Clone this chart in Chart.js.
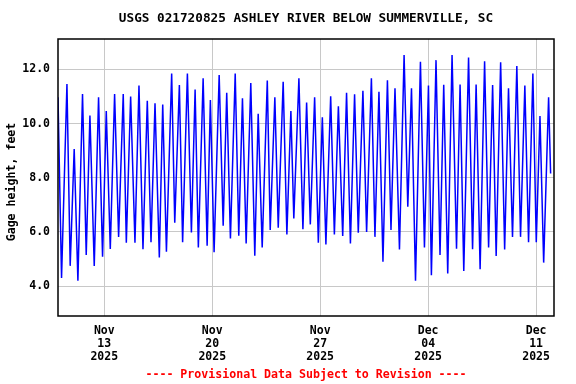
<!DOCTYPE html>
<html>
<head>
<meta charset="utf-8">
<title>USGS 021720825 Ashley River below Summerville, SC</title>
<script src="https://cdn.jsdelivr.net/npm/chart.js@4.4.0/dist/chart.umd.min.js"></script>
<style>
  html, body { margin: 0; padding: 0; background: #fff; }
</style>
</head>
<body>
<canvas id="gage" width="576" height="384"></canvas>
<script>
// ===== Data =====
// turning points of the tide, in days after Nov 10 2025 00:00
const tideDays = [
  0.00, 0.23, 0.58, 0.79, 1.05, 1.29, 1.59, 1.83, 2.07, 2.35,
  2.63, 2.89, 3.13, 3.39, 3.67, 3.93, 4.23, 4.43, 4.71, 4.99,
  5.25, 5.51, 5.79, 6.03, 6.29, 6.57, 6.79, 7.03, 7.37, 7.57,
  7.87, 8.08, 8.39, 8.65, 8.89, 9.10, 9.41, 9.67, 9.88, 10.12,
  10.45, 10.71, 10.94, 11.18, 11.49, 11.72, 11.96, 12.20, 12.50, 12.76,
  12.98, 13.24, 13.57, 13.76, 14.06, 14.28, 14.60, 14.84, 15.10, 15.29,
  15.62, 15.88, 16.12, 16.36, 16.64, 16.88, 17.14, 17.37, 17.68, 17.92,
  18.18, 18.46, 18.71, 18.96, 19.23, 19.47, 19.77, 20.01, 20.32, 20.55,
  20.81, 21.07, 21.36, 21.59, 21.85, 22.14, 22.44, 22.68, 22.92, 23.18,
  23.50, 23.76, 24.02, 24.21, 24.51, 24.77, 25.01, 25.27, 25.55, 25.84,
  26.07, 26.31, 26.62, 26.88, 27.11, 27.37, 27.66, 27.92, 28.18, 28.41,
  28.70, 28.96, 29.21, 29.47, 29.75, 29.99, 30.27, 30.51, 30.79, 31.01,
  31.25, 31.49, 31.81, 31.94
];
const gageFeet = [
  10.97, 4.30, 11.46, 4.75, 9.06, 4.20, 11.09, 5.15, 10.30, 4.75,
  10.97, 5.09, 10.46, 5.37, 11.09, 5.82, 11.09, 5.60, 11.00, 5.60,
  11.40, 5.36, 10.84, 5.62, 10.75, 5.06, 10.70, 5.27, 11.85, 6.34,
  11.42, 5.62, 11.85, 5.98, 11.26, 5.43, 11.67, 5.49, 10.87, 5.25,
  11.79, 6.23, 11.14, 5.76, 11.85, 5.86, 10.93, 5.58, 11.50, 5.12,
  10.36, 5.43, 11.59, 6.07, 10.97, 6.16, 11.54, 5.91, 10.46, 6.50,
  11.67, 6.10, 10.78, 6.28, 10.97, 5.60, 10.23, 5.54, 11.01, 5.91,
  10.64, 5.85, 11.14, 5.58, 11.08, 5.97, 11.21, 6.00, 11.67, 5.82,
  11.17, 4.90, 11.60, 6.07, 11.30, 5.35, 12.53, 6.93, 11.30, 4.20,
  12.28, 5.43, 11.40, 4.40, 12.34, 5.15, 11.43, 4.47, 12.53, 5.38,
  11.44, 4.56, 12.44, 5.36, 11.44, 4.63, 12.30, 5.43, 11.42, 5.11,
  12.26, 5.35, 11.30, 5.82, 12.12, 5.82, 11.40, 5.62, 11.85, 5.62,
  10.28, 4.87, 10.97, 8.16
];

const dayTicks = [3, 10, 17, 24, 31];
const dayTickLabels = [
  ['Nov', '13', '2025'],
  ['Nov', '20', '2025'],
  ['Nov', '27', '2025'],
  ['Dec', '04', '2025'],
  ['Dec', '11', '2025']
];
const feetTicks = [4, 6, 8, 10, 12];

const chartTitle = 'USGS 021720825 ASHLEY RIVER BELOW SUMMERVILLE, SC';
const yTitle = 'Gage height, feet';
const footNote = '---- Provisional Data Subject to Revision ----';

// ===== Helpers =====
const MONO = '"DejaVu Sans Mono", "Liberation Mono", monospace';
const GRID = '#c8c8c8';

const points = tideDays.map((d, i) => ({ x: d, y: gageFeet[i] }));

// frame round the plot, plus title, rotated y title and footer
const frameAndText = {
  id: 'frameAndText',
  afterDraw(chart) {
    const { ctx, chartArea: a } = chart;
    const mid = (a.left + a.right) / 2;
    ctx.save();
    ctx.strokeStyle = '#000';
    ctx.lineWidth = 1.5;
    ctx.strokeRect(a.left, a.top, a.right - a.left, a.bottom - a.top);

    ctx.textAlign = 'center';
    ctx.textBaseline = 'middle';
    ctx.fillStyle = '#000';
    ctx.font = 'bold 12.7px ' + MONO;
    ctx.fillText(chartTitle, mid, 19);

    ctx.fillStyle = '#f00';
    ctx.font = 'bold 11.6px ' + MONO;
    ctx.fillText(footNote, mid, 375);

    ctx.translate(12, 182);
    ctx.rotate(-Math.PI / 2);
    ctx.fillStyle = '#000';
    ctx.font = 'bold 11.6px ' + MONO;
    ctx.fillText(yTitle, 0, 0);
    ctx.restore();
  }
};

// ===== Chart =====
new Chart(document.getElementById('gage'), {
  type: 'line',
  data: {
    datasets: [{
      data: points,
      borderColor: '#0000ff',
      borderWidth: 1.5,
      pointRadius: 0,
      tension: 0,
      fill: false
    }]
  },
  options: {
    responsive: false,
    animation: false,
    layout: { padding: { left: 0, right: 22, top: 39, bottom: 0 } },
    plugins: {
      legend: { display: false },
      title: { display: false },
      tooltip: { enabled: false }
    },
    scales: {
      x: {
        type: 'linear',
        min: 0,
        max: 32.16,
        afterBuildTicks: s => { s.ticks = dayTicks.map(v => ({ value: v })); },
        afterFit: s => { s.height = 68; },
        grid: { color: GRID, lineWidth: 1, drawTicks: false },
        border: { display: false },
        ticks: {
          padding: 9,
          maxRotation: 0,
          autoSkip: false,
          color: '#000',
          font: { family: MONO, size: 11.5, weight: 'bold', lineHeight: 1.13 },
          callback: (v) => dayTickLabels[dayTicks.indexOf(v)]
        }
      },
      y: {
        min: 2.9,
        max: 13.12,
        afterBuildTicks: s => { s.ticks = feetTicks.map(v => ({ value: v })); },
        afterFit: s => { s.width = 58; },
        grid: { color: GRID, lineWidth: 1, drawTicks: false },
        border: { display: false },
        ticks: {
          padding: 8,
          color: '#000',
          font: { family: MONO, size: 11.5, weight: 'bold' },
          callback: (v) => v.toFixed(1)
        }
      }
    }
  },
  plugins: [frameAndText]
});
</script>
</body>
</html>
